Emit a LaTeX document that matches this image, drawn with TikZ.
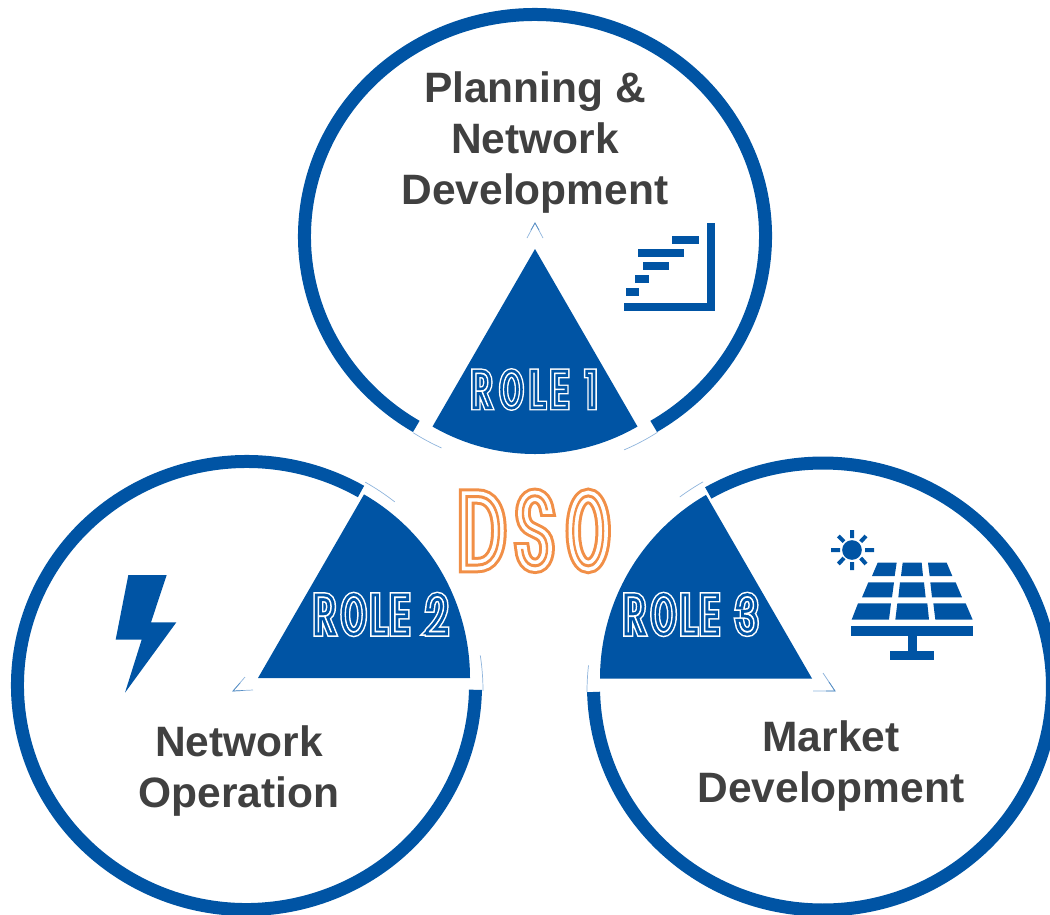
\documentclass[tikz,border=0pt]{standalone}
\usepackage{fontspec}
\setmainfont{Liberation Sans}
\newfontfamily\dsoA[FakeStretch=0.6,FakeBold=14.5]{Poppins Thin}
\newfontfamily\dsoB[FakeStretch=0.6,FakeBold=8.5]{Poppins Thin}
\newfontfamily\dsoC[FakeStretch=0.6,FakeBold=1.2]{Poppins Thin}
\newfontfamily\dsoAo[FakeStretch=0.46,FakeBold=14.5]{Poppins Thin}
\newfontfamily\dsoBo[FakeStretch=0.46,FakeBold=8.5]{Poppins Thin}
\newfontfamily\dsoCo[FakeStretch=0.46,FakeBold=1.2]{Poppins Thin}
\newfontfamily\rolA[FakeStretch=0.66,FakeBold=19]{Poppins Thin}
\newfontfamily\rolB[FakeStretch=0.66,FakeBold=13]{Poppins Thin}
\newfontfamily\rolC[FakeStretch=0.66,FakeBold=1.5]{Poppins Thin}
\newfontfamily\rolAo[FakeStretch=0.52,FakeBold=19]{Poppins Thin}
\newfontfamily\rolBo[FakeStretch=0.52,FakeBold=13]{Poppins Thin}
\newfontfamily\rolCo[FakeStretch=0.52,FakeBold=1.5]{Poppins Thin}
\definecolor{dsoblue}{HTML}{0054A4}
\definecolor{hair}{HTML}{8FB4DC}
\definecolor{txtgray}{HTML}{404040}
\definecolor{dsoorange}{HTML}{F18F47}
\newcommand{\roletxt}[4]{{#1 R}\kern\dimexpr.11em-#4\relax{#2 O}\kern\dimexpr.02em-#4\relax{#1 L}\kern\dimexpr-.01em-#4\relax{#1 E}\kern\dimexpr.07em-#4\relax{#1\ }{#1 #3}}
\newcommand{\dsotxt}[2]{{#1 D}\kern-.02em{#1 S}\kern.06em{#2 O}}
\newcommand{\rolelabel}[5]{% name, position, font size, digit, tightening
  \node[rolelayer,font=\fontsize{#3}{#3}\selectfont,text=white] (#1a) at (#2) {\roletxt{\rolA}{\rolAo}{#4}{#5}};
  \node[rolelayer,font=\fontsize{#3}{#3}\selectfont,text=dsoblue] (#1b) at (#2) {\roletxt{\rolB}{\rolBo}{#4}{#5}};
  \node[rolelayer,font=\fontsize{#3}{#3}\selectfont,text=white] (#1) at (#2) {\roletxt{\rolC}{\rolCo}{#4}{#5}};
}
\tikzset{
  ringline/.style={draw=dsoblue,line width=13pt,line cap=butt},
  wedge/.style={fill=dsoblue,draw=none},
  hairline/.style={draw=hair,line width=0.7pt},
  tipline/.style={draw=dsoblue!65,line width=0.7pt},
  iconfill/.style={fill=dsoblue,draw=none},
  heading/.style={font=\fontsize{42.5}{51}\selectfont\bfseries,text=txtgray,align=center,inner sep=0pt},
  rolelayer/.style={anchor=base,inner sep=0pt},
  dsolayer/.style={anchor=base,inner sep=0pt,font=\fontsize{100}{100}\selectfont},
}
\begin{document}
\begin{tikzpicture}[x=1pt,y=-1pt]
\useasboundingbox (0,0) rectangle (1050,914);
\clip (0,0) rectangle (1050,914);
\coordinate (ct) at (535,236.3);
\coordinate (cl) at (246.5,685.5);
\coordinate (cr) at (823,686.5);
\coordinate (ht) at (535,240);
\coordinate (hl) at (247,691);
\coordinate (hr) at (823,692);
% rings
\draw[ringline] (ct) ++(-59:230.5pt and 221.8pt) arc[start angle=-59,end angle=239,x radius=230.5pt,y radius=221.8pt];
\draw[ringline] (cl) ++(60:229pt and 224pt) arc[start angle=60,end angle=358.9,x radius=229pt,y radius=224pt];
\draw[ringline] (cr) ++(181.4:229.5pt and 223.5pt) arc[start angle=181.4,end angle=480,x radius=229.5pt,y radius=223.5pt];
% hairlines
\draw[hairline] (ht) ++(237.7:228pt) arc[start angle=237.7,end angle=245.8,radius=228pt];
\draw[hairline] (ht) ++(293:228pt) arc[start angle=293,end angle=302.5,radius=228pt];
\draw[hairline] (hl) ++(52:240pt) arc[start angle=52,end angle=60.5,radius=240pt];
\draw[hairline] (hl) ++(0:236pt) arc[start angle=0,end angle=8.7,radius=236pt];
\draw[hairline] (hr) ++(119.7:242pt) arc[start angle=119.7,end angle=126.3,radius=242pt];
\draw[hairline] (hr) ++(173.5:236pt) arc[start angle=173.5,end angle=180,radius=236pt];
% wedges
\coordinate (at) at (535,249);
\coordinate (al) at (258,678);
\coordinate (ar) at (812,678.5);
\fill[wedge] (at) -- ++(240:205pt) arc[start angle=240,end angle=300,radius=205pt] -- cycle;
\fill[wedge] (al) -- ++(0:212pt) arc[start angle=0,end angle=60,radius=212pt] -- cycle;
\fill[wedge] (ar) -- ++(120:212pt) arc[start angle=120,end angle=180,radius=212pt] -- cycle;
% small tips
\coordinate (tipt) at (535,223);
\coordinate (tipl) at (233,691);
\coordinate (tipr) at (835,691);
\draw[hairline] (527,238) -- (tipt) -- (543,238);
\draw[tipline] (531,230) -- (tipt) -- (539,230);
\draw[hairline] (245,677) -- (tipl) -- (253,690);
\draw[tipline] (240,683) -- (tipl) -- (243,690.5);
\draw[hairline] (823,673) -- (tipr) -- (813,691);
\draw[tipline] (829,682) -- (tipr) -- (826,691);
% gantt icon
\fill[iconfill] (707,223) rectangle (714.5,311);
\fill[iconfill] (623.5,303) rectangle (714.5,311);
\fill[iconfill] (672,236) rectangle (699,244);
\fill[iconfill] (638,249) rectangle (684,257);
\fill[iconfill] (643,262) rectangle (669,270);
\fill[iconfill] (635,275) rectangle (649,283);
\fill[iconfill] (626,288) rectangle (639,296);
% solar icon
\begin{scope}[xshift=820pt,yshift=-520pt,x=0.33333pt,y=-0.33333pt]
\fill[iconfill] (96,90) circle[radius=29.5*0.33333pt];
\draw[draw=dsoblue,line width=4pt] (96,30) -- (96,54) (33,90) -- (60,90) (135,90) -- (162,90) (96,126) -- (96,150)
  (55,48) -- (72,65) (138,48) -- (122,65) (55,132) -- (72,114) (138,132) -- (122,114);
\fill[iconfill] (173,128) -- (230,128) -- (224,168) -- (156,168) -- cycle;
\fill[iconfill] (248,128) -- (305,128) -- (309,168) -- (243,168) -- cycle;
\fill[iconfill] (324,128) -- (380,128) -- (397,168) -- (329,168) -- cycle;
\fill[iconfill] (145,187) -- (222,187) -- (216,232) -- (126,232) -- cycle;
\fill[iconfill] (240,187) -- (312,187) -- (317,232) -- (235,232) -- cycle;
\fill[iconfill] (331,187) -- (407,187) -- (426,232) -- (336,232) -- cycle;
\fill[iconfill] (114,250) -- (213,250) -- (207,299) -- (95,299) -- cycle;
\fill[iconfill] (232,250) -- (322,250) -- (327,299) -- (226,299) -- cycle;
\fill[iconfill] (340,250) -- (437,250) -- (458,299) -- (346,299) -- cycle;
\fill[iconfill] (94,318) rectangle (458,347);
\fill[iconfill] (263,347) rectangle (291,392);
\fill[iconfill] (211,392) rectangle (342,420);
\end{scope}
% bolt icon
\begin{scope}[xshift=100pt,yshift=-565pt,x=0.33333pt,y=-0.33333pt]
\fill[iconfill] (85,30) -- (200,30) -- (153,172) -- (229,172) -- (75,383) -- (125,224) -- (47,224) -- cycle;
\end{scope}
% headings
\node[heading] (role1text) at (535,142.5) {Planning \&\\Network\\Development};
\node[heading] (role2text) at (239,771) {Network\\Operation};
\node[heading] (role3text) at (831,766) {Market\\Development};
% role labels
\rolelabel{r1}{529.5,406}{47}{1}{0pt}
\rolelabel{r2}{376,632}{50}{2}{.05em}
\rolelabel{r3}{686,632}{50}{3}{.05em}
% DSO
\node[dsolayer,text=dsoorange] (dsoa) at (525,566) {\dsotxt{\dsoA}{\dsoAo}};
\node[dsolayer,text=white] (dsob) at (525,566) {\dsotxt{\dsoB}{\dsoBo}};
\node[dsolayer,text=dsoorange] (dso) at (525,566) {\dsotxt{\dsoC}{\dsoCo}};
\end{tikzpicture}
\end{document}
